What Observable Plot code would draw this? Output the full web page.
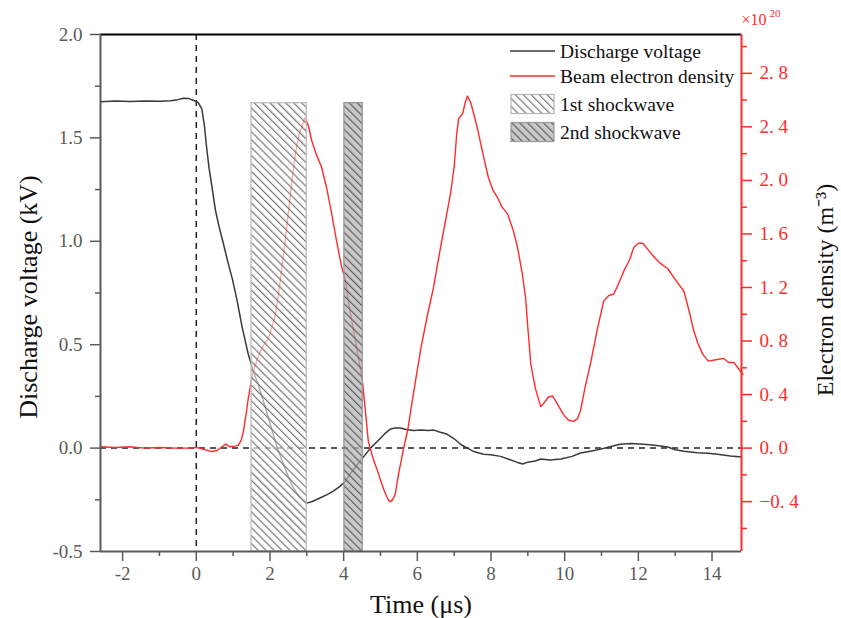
<!DOCTYPE html>
<html>
<head>
<meta charset="utf-8">
<script src="https://cdn.jsdelivr.net/npm/d3@7"></script>
<script src="https://cdn.jsdelivr.net/npm/@observablehq/plot@0.6"></script>
<style>
  html, body { margin: 0; padding: 0; background: #fff; }
  #chart { width: 841px; height: 618px; }
</style>
</head>
<body>
<div id="chart"></div>
<script>
// ---- Discharge voltage (kV) vs time (µs)
const vTime = [-2.6,-2.2,-1.8,-1.4,-1.0,-0.7,-0.5,-0.35,-0.2,-0.05,0.05,0.15,0.22,0.28,0.35,0.42,0.52,0.62,0.72,0.85,0.98,1.1,1.25,1.41,1.55,1.65,1.8,1.93,2.05,2.2,2.35,2.47,2.6,2.74,2.88,3.0,3.15,3.37,3.55,3.72,3.9,4.05,4.2,4.37,4.55,4.73,4.87,5.0,5.15,5.27,5.4,5.54,5.7,5.9,6.1,6.3,6.45,6.6,6.8,7.0,7.2,7.36,7.55,7.8,8.0,8.26,8.5,8.7,8.86,9.0,9.2,9.35,9.6,9.9,10.2,10.43,10.7,10.98,11.2,11.5,11.8,12.15,12.5,12.8,13.0,13.24,13.6,13.9,14.15,14.5,14.8];
const vValue = [1.675,1.678,1.676,1.678,1.677,1.68,1.685,1.692,1.69,1.68,1.672,1.64,1.56,1.455,1.35,1.27,1.15,1.07,1.0,0.905,0.817,0.72,0.58,0.455,0.37,0.324,0.24,0.164,0.09,0.0,-0.07,-0.126,-0.18,-0.223,-0.25,-0.266,-0.258,-0.24,-0.225,-0.208,-0.185,-0.16,-0.12,-0.08,-0.04,0.0,0.025,0.048,0.075,0.092,0.097,0.097,0.09,0.085,0.088,0.085,0.087,0.078,0.068,0.045,0.015,0.0,-0.018,-0.03,-0.032,-0.04,-0.055,-0.068,-0.077,-0.068,-0.062,-0.053,-0.058,-0.053,-0.04,-0.024,-0.015,-0.005,0.005,0.019,0.022,0.019,0.012,0.005,-0.008,-0.015,-0.022,-0.025,-0.03,-0.038,-0.043];

// ---- Beam electron density (x10^20 m^-3) vs time (µs)
const nTime = [-2.6,-2.2,-1.8,-1.4,-1.0,-0.6,-0.2,0.0,0.2,0.4,0.55,0.7,0.8,0.9,1.05,1.14,1.22,1.28,1.35,1.41,1.48,1.55,1.65,1.74,1.85,1.96,2.05,2.15,2.28,2.4,2.5,2.6,2.69,2.78,2.86,2.96,3.05,3.13,3.25,3.4,3.55,3.67,3.8,3.94,4.05,4.15,4.27,4.4,4.51,4.6,4.67,4.8,4.92,5.05,5.14,5.22,5.27,5.33,5.4,5.5,5.63,5.75,5.82,5.95,6.1,6.28,6.44,6.63,6.78,6.9,7.0,7.07,7.12,7.23,7.3,7.36,7.45,7.53,7.63,7.78,7.93,8.05,8.18,8.3,8.45,8.6,8.72,8.85,8.94,9.0,9.08,9.2,9.35,9.45,9.55,9.67,9.8,9.97,10.1,10.24,10.35,10.43,10.55,10.7,10.88,11.06,11.2,11.33,11.45,11.6,11.75,11.88,12.0,12.12,12.3,12.45,12.6,12.8,13.0,13.24,13.4,13.5,13.62,13.75,13.9,14.1,14.32,14.45,14.59,14.7,14.84];
const nValue = [0.01,0.005,0.01,0.0,0.005,0.0,0.0,0.005,-0.01,-0.025,-0.02,0.01,0.03,0.01,0.015,0.02,0.06,0.127,0.25,0.37,0.48,0.575,0.66,0.725,0.78,0.82,0.9,1.0,1.25,1.52,1.76,2.0,2.2,2.33,2.4,2.47,2.4,2.3,2.2,2.1,1.93,1.76,1.56,1.36,1.25,1.06,0.875,0.68,0.5,0.25,0.05,-0.08,-0.17,-0.28,-0.345,-0.39,-0.4,-0.385,-0.345,-0.18,0.0,0.15,0.28,0.5,0.75,1.0,1.2,1.5,1.72,1.9,2.1,2.35,2.46,2.5,2.58,2.63,2.58,2.5,2.39,2.2,2.02,1.93,1.87,1.8,1.75,1.63,1.5,1.3,1.12,0.9,0.63,0.45,0.31,0.34,0.38,0.39,0.33,0.25,0.21,0.2,0.22,0.28,0.45,0.63,0.88,1.1,1.14,1.15,1.22,1.32,1.4,1.5,1.53,1.53,1.47,1.42,1.38,1.34,1.26,1.17,1.0,0.88,0.78,0.7,0.65,0.66,0.67,0.64,0.64,0.6,0.55];

// ---- Shockwave windows
const shockNames = ["1st shockwave", "2nd shockwave"];
const shockStart = [1.5, 4.02];
const shockEnd = [3.0, 4.52];
const shockTop = [1.668, 1.668];

// ---- Axes
const xDomain = [-2.6, 14.8];
const yDomain = [-0.5, 2.0];          // kV
const y2Domain = [-0.7725, 3.09];     // x10^20 m^-3
const xMajor = [-2, 0, 2, 4, 6, 8, 10, 12, 14];
const xMinor = [-1, 1, 3, 5, 7, 9, 11, 13];
const yMajor = [-0.5, 0.0, 0.5, 1.0, 1.5, 2.0];
const yMinor = [-0.25, 0.25, 0.75, 1.25, 1.75];
const y2Major = [-0.4, 0.0, 0.4, 0.8, 1.2, 1.6, 2.0, 2.4, 2.8];
const y2Minor = [-0.6, -0.2, 0.2, 0.6, 1.0, 1.4, 1.8, 2.2, 2.6, 3.0];

const k = (yDomain[1] - yDomain[0]) / (y2Domain[1] - y2Domain[0]);
const voltage = vTime.map((t, i) => ({t, v: vValue[i]}));
const density = nTime.map((t, i) => ({t, n: nValue[i]}));
const shocks = shockNames.map((name, i) => ({name, t1: shockStart[i], t2: shockEnd[i], top: shockTop[i]}));

const RED = "#ff2b2b";
const GREY = "#5a5a5a";
const FONT = "'Liberation Serif', 'Times New Roman', serif";

function defsMark() {
  const defs = d3.create("svg:defs");
  const p1 = defs.append("pattern").attr("id", "hatch1").attr("patternUnits", "userSpaceOnUse")
    .attr("width", 5.6).attr("height", 10).attr("patternTransform", "rotate(-45)");
  p1.append("rect").attr("width", 5.6).attr("height", 10).attr("fill", "#fff").attr("fill-opacity", 0.6);
  p1.append("line").attr("x1", 0.6).attr("x2", 0.6).attr("y1", 0).attr("y2", 10)
    .attr("stroke", "#6a6a6a").attr("stroke-width", 1.1);
  const p2 = defs.append("pattern").attr("id", "hatch2").attr("patternUnits", "userSpaceOnUse")
    .attr("width", 5.6).attr("height", 10).attr("patternTransform", "rotate(-45)");
  p2.append("rect").attr("width", 5.6).attr("height", 10).attr("fill", "#b4b4b4").attr("fill-opacity", 0.72);
  p2.append("line").attr("x1", 0.6).attr("x2", 0.6).attr("y1", 0).attr("y2", 10)
    .attr("stroke", "#555").attr("stroke-width", 1.1);
  return defs.node();
}

function legendMark() {
  const g = d3.create("svg:g").attr("font-family", FONT).attr("font-size", 19.5).attr("text-anchor", "start");
  const x0 = 510, x1 = 555, tx = 560;
  const items = [
    {type: "line", color: "#3a3a3a", label: "Discharge voltage", y: 51},
    {type: "line", color: RED, label: "Beam electron density", y: 76},
    {type: "rect", fill: "url(#hatch1)", stroke: "#b5b5b5", label: shockNames[0], y: 104},
    {type: "rect", fill: "url(#hatch2)", stroke: "#999", label: shockNames[1], y: 132}
  ];
  for (const it of items) {
    if (it.type === "line") {
      g.append("line").attr("x1", x0).attr("x2", x1).attr("y1", it.y).attr("y2", it.y)
        .attr("stroke", it.color).attr("stroke-width", 1.5);
    } else {
      g.append("rect").attr("x", x0 + 1).attr("y", it.y - 9.5).attr("width", 43).attr("height", 19)
        .attr("fill", it.fill).attr("stroke", it.stroke).attr("stroke-width", 1.2);
    }
    g.append("text").attr("x", tx).attr("y", it.y).attr("dy", "0.35em").attr("fill", "#111").text(it.label);
  }
  return g.node();
}

const fmtRight = d => {
  let s = (d / k).toFixed(1);
  if (s === "-0.0") s = "0.0";
  return s.replace("-", "\u2212").replace(".", ". ");
};

const tickFont = {fontSize: 19};

const plot = Plot.plot({
  width: 841,
  height: 618,
  marginLeft: 100,
  marginRight: 100,
  marginTop: 34,
  marginBottom: 67,
  style: {fontFamily: FONT, background: "#fff", overflow: "visible"},
  x: {domain: xDomain, label: null},
  y: {domain: yDomain, label: null},
  marks: [
    defsMark,
    Plot.ruleX([0], {stroke: "#222", strokeWidth: 1.5, strokeDasharray: "6,5"}),
    Plot.ruleY([0], {stroke: "#222", strokeWidth: 1.5, strokeDasharray: "6,5"}),
    Plot.line(voltage, {x: "t", y: "v", stroke: "#3a3a3a", strokeWidth: 1.5}),
    Plot.line(density, {x: "t", y: d => d.n * k, stroke: RED, strokeWidth: 1.4}),
    Plot.rect(shocks, {x1: "t1", x2: "t2", y1: () => yDomain[0], y2: "top",
      fill: (d, i) => i === 0 ? "url(#hatch1)" : "url(#hatch2)", stroke: (d, i) => i === 0 ? "#bdbdbd" : "#999", strokeWidth: 1.3}),
    // axis lines
    Plot.ruleY([yDomain[1]], {stroke: "#000", strokeWidth: 2}),
    Plot.ruleY([yDomain[0]], {stroke: GREY, strokeWidth: 2}),
    Plot.ruleX([xDomain[0]], {stroke: GREY, strokeWidth: 2}),
    Plot.ruleX([xDomain[1]], {stroke: RED, strokeWidth: 2}),
    // bottom axis
    Plot.axisX(xMajor, {anchor: "bottom", tickSize: 10, tickPadding: 5, ...tickFont, color: GREY, strokeWidth: 1.5, tickFormat: d => String(d), label: null}),
    Plot.axisX(xMinor, {anchor: "bottom", tickSize: 5, ...tickFont, color: GREY, strokeWidth: 1.5, tickFormat: () => "", label: null}),
    // left axis
    Plot.axisY(yMajor, {anchor: "left", tickSize: 10, tickPadding: 8, ...tickFont, color: GREY, strokeWidth: 1.5, tickFormat: d => d.toFixed(1), label: null}),
    Plot.axisY(yMinor, {anchor: "left", tickSize: 5, ...tickFont, color: GREY, strokeWidth: 1.5, tickFormat: () => "", label: null}),
    // right axis (electron density)
    Plot.axisY(y2Major.map(d => d * k), {anchor: "right", tickSize: 10, tickPadding: 8, ...tickFont, color: RED, strokeWidth: 1.5, tickFormat: fmtRight, label: null}),
    Plot.axisY(y2Minor.map(d => d * k), {anchor: "right", tickSize: 5, ...tickFont, color: RED, strokeWidth: 1.5, tickFormat: () => "", label: null}),
    // titles
    Plot.text(["Discharge voltage (kV)"], {text: d => d, frameAnchor: "left", dx: -72, dy: 4, rotate: -90, textAnchor: "middle", lineAnchor: "middle", fontSize: 26, fill: "#111"}),
    Plot.text(["Electron density (m\u207B\u00B3)"], {text: d => d, frameAnchor: "right", dx: 84, dy: -3, rotate: -90, textAnchor: "middle", lineAnchor: "middle", fontSize: 24, fill: "#111"}),
    Plot.text(["Time (\u03BCs)"], {text: d => d, frameAnchor: "bottom", dy: 53, textAnchor: "middle", lineAnchor: "middle", fontSize: 26, fill: "#111"}),
    Plot.text(["\u00D710"], {text: d => d, frameAnchor: "top-right", dx: 0, dy: -15, textAnchor: "start", lineAnchor: "middle", fontSize: 16, fill: RED}),
    Plot.text(["20"], {text: d => d, frameAnchor: "top-right", dx: 28, dy: -21, textAnchor: "start", lineAnchor: "middle", fontSize: 11, fill: RED}),
    legendMark
  ]
});

document.getElementById("chart").appendChild(plot);
</script>
</body>
</html>
